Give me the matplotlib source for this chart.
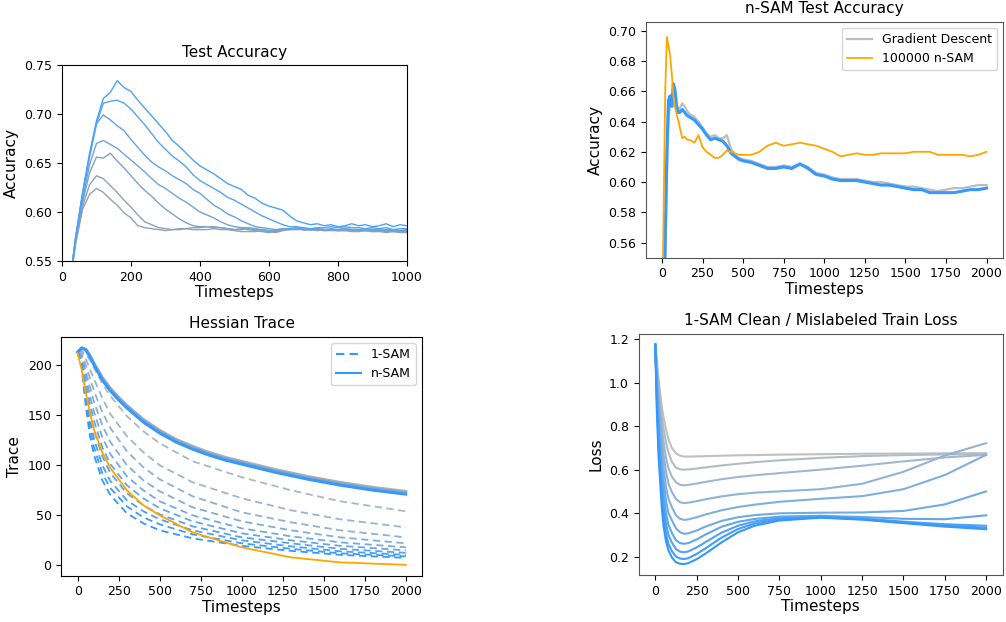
import numpy as np
import matplotlib
matplotlib.use("Agg")
import matplotlib.pyplot as plt
from matplotlib.lines import Line2D

# ---------------- Data: Test Accuracy (top-left) ----------------
TL_X = list(range(0, 1001, 20))
TL_LINES = [
    [0.460, 0.520, 0.568, 0.603, 0.618, 0.624, 0.620, 0.613, 0.607, 0.599,
     0.594, 0.586, 0.584, 0.583, 0.582, 0.581, 0.582, 0.583, 0.583, 0.582,
     0.582, 0.582, 0.583, 0.582, 0.582, 0.581, 0.580, 0.580, 0.580, 0.581,
     0.580, 0.579, 0.581, 0.582, 0.582, 0.582, 0.582, 0.582, 0.581, 0.581,
     0.581, 0.581, 0.580, 0.580, 0.581, 0.580, 0.580, 0.579, 0.580, 0.579,
     0.579],
    [0.460, 0.520, 0.570, 0.606, 0.628, 0.637, 0.634, 0.627, 0.620, 0.612,
     0.605, 0.597, 0.590, 0.587, 0.584, 0.583, 0.582, 0.582, 0.583, 0.584,
     0.584, 0.585, 0.585, 0.584, 0.583, 0.582, 0.582, 0.583, 0.582, 0.582,
     0.581, 0.581, 0.582, 0.582, 0.583, 0.582, 0.582, 0.581, 0.582, 0.582,
     0.581, 0.581, 0.582, 0.581, 0.581, 0.580, 0.581, 0.581, 0.580, 0.580,
     0.580],
    [0.460, 0.520, 0.572, 0.610, 0.640, 0.656, 0.655, 0.660, 0.652, 0.645,
     0.637, 0.629, 0.622, 0.616, 0.609, 0.603, 0.598, 0.593, 0.589, 0.586,
     0.585, 0.585, 0.584, 0.584, 0.583, 0.582, 0.583, 0.582, 0.581, 0.580,
     0.579, 0.581, 0.582, 0.583, 0.583, 0.582, 0.582, 0.582, 0.581, 0.582,
     0.581, 0.582, 0.581, 0.581, 0.582, 0.581, 0.581, 0.580, 0.581, 0.580,
     0.580],
    [0.460, 0.520, 0.573, 0.614, 0.648, 0.670, 0.673, 0.669, 0.665, 0.659,
     0.653, 0.647, 0.641, 0.634, 0.628, 0.624, 0.619, 0.614, 0.610, 0.605,
     0.600, 0.597, 0.594, 0.590, 0.587, 0.585, 0.584, 0.584, 0.583, 0.582,
     0.581, 0.580, 0.582, 0.583, 0.583, 0.582, 0.582, 0.583, 0.582, 0.582,
     0.582, 0.583, 0.582, 0.582, 0.581, 0.582, 0.582, 0.581, 0.581, 0.581,
     0.581],
    [0.460, 0.520, 0.575, 0.618, 0.656, 0.690, 0.699, 0.694, 0.688, 0.683,
     0.674, 0.666, 0.658, 0.651, 0.646, 0.642, 0.637, 0.633, 0.629, 0.623,
     0.619, 0.613, 0.607, 0.603, 0.598, 0.595, 0.591, 0.588, 0.585, 0.584,
     0.583, 0.582, 0.583, 0.583, 0.584, 0.583, 0.582, 0.583, 0.582, 0.583,
     0.582, 0.583, 0.582, 0.582, 0.583, 0.582, 0.581, 0.582, 0.582, 0.581,
     0.582],
    [0.460, 0.520, 0.575, 0.620, 0.658, 0.690, 0.711, 0.713, 0.714, 0.711,
     0.705, 0.697, 0.689, 0.680, 0.671, 0.664, 0.657, 0.652, 0.646, 0.638,
     0.632, 0.628, 0.624, 0.620, 0.615, 0.612, 0.608, 0.604, 0.600, 0.596,
     0.593, 0.590, 0.587, 0.585, 0.585, 0.584, 0.583, 0.584, 0.584, 0.585,
     0.584, 0.585, 0.584, 0.584, 0.583, 0.584, 0.583, 0.584, 0.582, 0.583,
     0.583],
    [0.460, 0.520, 0.575, 0.620, 0.660, 0.693, 0.716, 0.722, 0.734, 0.727,
     0.723, 0.714, 0.706, 0.698, 0.690, 0.682, 0.673, 0.667, 0.660, 0.653,
     0.647, 0.643, 0.639, 0.634, 0.629, 0.626, 0.623, 0.617, 0.614, 0.609,
     0.606, 0.604, 0.602, 0.596, 0.591, 0.589, 0.587, 0.588, 0.586, 0.587,
     0.585, 0.586, 0.588, 0.586, 0.587, 0.585, 0.586, 0.588, 0.585, 0.587,
     0.586],
]

# ---------------- Data: n-SAM Test Accuracy (top-right) ----------------
TR_X = [0, 10, 20, 30, 40, 50, 60, 70, 80, 90,
        100, 110, 125, 140, 155, 170, 185, 200, 225, 250,
        275, 300, 325, 350, 375, 400, 425, 450, 475, 500,
        550, 600, 650, 700, 750, 800, 850, 900, 950, 1000,
        1050, 1100, 1150, 1200, 1250, 1300, 1350, 1400, 1450, 1500,
        1550, 1600, 1650, 1700, 1750, 1800, 1850, 1900, 1950, 2000]
TR_GD = [0.450, 0.490, 0.540, 0.600, 0.640, 0.652, 0.655, 0.650, 0.657, 0.652,
         0.648, 0.649, 0.652, 0.650, 0.647, 0.645, 0.644, 0.643, 0.640, 0.636,
         0.632, 0.630, 0.631, 0.629, 0.629, 0.631, 0.622, 0.618, 0.616, 0.615,
         0.614, 0.612, 0.610, 0.610, 0.611, 0.610, 0.612, 0.610, 0.606, 0.605,
         0.603, 0.602, 0.602, 0.602, 0.601, 0.600, 0.600, 0.599, 0.598, 0.597,
         0.597, 0.596, 0.595, 0.594, 0.595, 0.596, 0.596, 0.597, 0.598, 0.598]
TR_NSAM = [0.450, 0.500, 0.565, 0.620, 0.654, 0.657, 0.650, 0.665, 0.661, 0.650,
           0.646, 0.646, 0.648, 0.646, 0.644, 0.643, 0.642, 0.641, 0.638, 0.635,
           0.631, 0.628, 0.629, 0.628, 0.627, 0.624, 0.619, 0.617, 0.615, 0.614,
           0.613, 0.611, 0.609, 0.609, 0.610, 0.609, 0.612, 0.609, 0.605, 0.604,
           0.602, 0.601, 0.601, 0.601, 0.600, 0.599, 0.598, 0.598, 0.597, 0.596,
           0.595, 0.595, 0.593, 0.593, 0.593, 0.593, 0.594, 0.595, 0.595, 0.596]
TR_ORANGE = [0.500, 0.580, 0.660, 0.696, 0.690, 0.684, 0.672, 0.657, 0.650, 0.645,
             0.641, 0.636, 0.629, 0.630, 0.628, 0.628, 0.627, 0.626, 0.631, 0.623,
             0.620, 0.618, 0.616, 0.616, 0.618, 0.621, 0.620, 0.619, 0.618, 0.618,
             0.618, 0.620, 0.624, 0.626, 0.624, 0.625, 0.626, 0.625, 0.624, 0.622,
             0.620, 0.617, 0.618, 0.619, 0.618, 0.618, 0.619, 0.619, 0.619, 0.619,
             0.620, 0.620, 0.620, 0.618, 0.618, 0.618, 0.618, 0.617, 0.618, 0.620]
TR_LABELS = ["Gradient Descent", "100000 n-SAM"]

# ---------------- Data: Hessian Trace (bottom-left) ----------------
BL_SOLID_X = [0, 25, 50, 75, 100, 150, 200, 250, 300, 400, 500,
              600, 700, 800, 900, 1000, 1200, 1400, 1600, 1800, 2000]
BL_SOLID = [
    [213, 217.5, 216, 210, 202, 188, 177, 168, 160, 146, 135,
     126, 119, 113, 108, 104, 96, 89, 83, 78, 74],
    [213, 217.2, 215.5, 209, 201, 186.5, 175.5, 166.5, 158.5, 144.5, 133.5,
     124.5, 117.5, 111.5, 106.5, 102.5, 94.5, 87.5, 81.5, 76.5, 72.5],
    [213, 217, 215, 208, 200, 185, 174, 165, 157, 143, 132,
     123, 116, 110, 105, 101, 93, 86, 80, 75, 71],
]
BL_DASH_X = [0, 25, 50, 75, 100, 150, 200, 300, 400, 500, 700, 1000, 1300, 1600, 2000]
BL_DASHED = [
    [213, 214, 211, 205, 197, 182, 169, 149, 134, 122, 104, 88, 75, 64, 54],
    [213, 213, 206, 196, 186, 167, 151, 129, 113, 100, 83, 67, 55, 46, 38],
    [213, 211, 200, 187, 174, 153, 137, 114, 98, 86, 69, 53, 43, 35, 28],
    [213, 209, 194, 178, 163, 140, 123, 100, 85, 74, 58, 44, 35, 28, 22],
    [213, 207, 188, 169, 153, 128, 111, 89, 75, 64, 50, 37, 29, 23, 18],
    [213, 205, 182, 161, 144, 118, 101, 80, 67, 57, 44, 32, 25, 19.5, 15],
    [213, 203, 176, 153, 135, 109, 92, 72, 60, 51, 39, 28, 22, 16.5, 12.5],
    [213, 201, 170, 145, 126, 100, 84, 65, 54, 46, 35, 25, 19, 14, 10.5],
    [213, 199, 164, 137, 118, 92, 77, 59, 48, 41, 31, 22, 16.5, 12, 9],
    [213, 197, 158, 129, 110, 85, 70, 52, 42, 35, 27, 19.5, 14.5, 10.5, 7.5],
]
BL_ORANGE = [212, 195, 172, 152, 135, 113, 97, 75, 60, 50, 33, 18, 8, 3, 0.5]
BL_LABELS = ["1-SAM", "n-SAM"]

# ---------------- Data: Train Loss (bottom-right) ----------------
BR_X = [0, 10, 20, 30, 40, 50, 65, 80, 100,
        125, 150, 175, 200, 250, 300, 400, 500, 600, 750, 1000, 1250, 1500, 1750, 2000]
BR_LINES = [
    [1.175, 1.10, 1.02, 0.95, 0.89, 0.84, 0.785, 0.740, 0.700,
     0.675, 0.664, 0.660, 0.660, 0.661, 0.662, 0.664, 0.666, 0.667, 0.669, 0.671, 0.673, 0.674, 0.675, 0.676],
    [1.175, 1.08, 0.99, 0.91, 0.84, 0.79, 0.725, 0.680, 0.637,
     0.610, 0.601, 0.600, 0.601, 0.605, 0.610, 0.619, 0.627, 0.634, 0.643, 0.654, 0.662, 0.667, 0.670, 0.671],
    [1.175, 1.06, 0.96, 0.87, 0.79, 0.73, 0.655, 0.605, 0.568,
     0.542, 0.530, 0.528, 0.530, 0.536, 0.543, 0.556, 0.566, 0.574, 0.584, 0.600, 0.618, 0.638, 0.656, 0.668],
    [1.175, 1.04, 0.93, 0.83, 0.74, 0.67, 0.590, 0.535, 0.498,
     0.465, 0.450, 0.446, 0.448, 0.455, 0.463, 0.477, 0.487, 0.494, 0.500, 0.510, 0.535, 0.590, 0.665, 0.722],
    [1.175, 1.02, 0.89, 0.78, 0.68, 0.61, 0.520, 0.465, 0.428,
     0.390, 0.374, 0.369, 0.371, 0.381, 0.393, 0.413, 0.428, 0.439, 0.452, 0.466, 0.478, 0.510, 0.575, 0.668],
    [1.175, 0.99, 0.85, 0.73, 0.62, 0.55, 0.455, 0.400, 0.368,
     0.330, 0.312, 0.305, 0.307, 0.320, 0.337, 0.364, 0.381, 0.391, 0.399, 0.402, 0.403, 0.410, 0.440, 0.500],
    [1.175, 0.96, 0.81, 0.68, 0.57, 0.49, 0.400, 0.345, 0.310,
     0.275, 0.262, 0.259, 0.262, 0.279, 0.300, 0.337, 0.360, 0.373, 0.384, 0.388, 0.382, 0.374, 0.372, 0.390],
    [1.175, 0.93, 0.77, 0.63, 0.52, 0.44, 0.350, 0.300, 0.265,
     0.235, 0.223, 0.220, 0.224, 0.242, 0.265, 0.310, 0.342, 0.362, 0.378, 0.384, 0.375, 0.361, 0.349, 0.342],
    [1.175, 0.90, 0.72, 0.58, 0.47, 0.39, 0.305, 0.258, 0.226,
     0.200, 0.191, 0.189, 0.193, 0.212, 0.236, 0.287, 0.327, 0.352, 0.372, 0.381, 0.372, 0.357, 0.343, 0.333],
    [1.175, 0.86, 0.66, 0.54, 0.42, 0.34, 0.270, 0.228, 0.197,
     0.174, 0.167, 0.166, 0.170, 0.188, 0.212, 0.265, 0.312, 0.342, 0.366, 0.379, 0.370, 0.354, 0.338, 0.326],
]

# ---------------- Styling helpers ----------------
def blend(c0, c1, n):
    c0 = np.array(matplotlib.colors.to_rgb(c0))
    c1 = np.array(matplotlib.colors.to_rgb(c1))
    return [tuple(c0 + (c1 - c0) * t) for t in np.linspace(0, 1, n)]

TICK_FS = 9
LABEL_FS = 11
TITLE_FS = 11
BLUE = "#3399ff"
ORANGE = "#ffa500"

fig = plt.figure(figsize=(10.06, 6.22), dpi=100)

def style(ax, spine_color="black"):
    ax.tick_params(labelsize=TICK_FS)
    for s in ax.spines.values():
        s.set_edgecolor(spine_color)

# ---- top-left
ax1 = fig.add_axes([0.0616, 0.5804, 0.3429, 0.3151])
cols = blend("#98a2ad", "#4aa3fb", len(TL_LINES))
for vals, c in zip(TL_LINES, cols):
    ax1.plot(TL_X, vals, color=c, lw=1.0)
ax1.set_xlim(0, 1000)
ax1.set_ylim(0.55, 0.75)
ax1.set_xticks([0, 200, 400, 600, 800, 1000])
ax1.set_yticks([0.55, 0.60, 0.65, 0.70, 0.75])
ax1.set_title("Test Accuracy", fontsize=TITLE_FS)
ax1.set_xlabel("Timesteps", fontsize=LABEL_FS, labelpad=1)
ax1.set_ylabel("Accuracy", fontsize=LABEL_FS)
style(ax1)

# ---- top-right
ax2 = fig.add_axes([0.6419, 0.5857, 0.3549, 0.3794])
ax2.plot(TR_X, TR_GD, color="#bdbdbd", lw=1.6, label=TR_LABELS[0])
ax2.plot(TR_X, TR_NSAM, color=BLUE, lw=2.2)
ax2.plot(TR_X, TR_ORANGE, color=ORANGE, lw=1.3, label=TR_LABELS[1])
ax2.set_xlim(-100, 2100)
ax2.set_ylim(0.55, 0.706)
ax2.set_xticks(list(range(0, 2001, 250)))
ax2.set_yticks([0.56, 0.58, 0.60, 0.62, 0.64, 0.66, 0.68, 0.70])
ax2.set_title("n-SAM Test Accuracy", fontsize=TITLE_FS)
ax2.set_xlabel("Timesteps", fontsize=LABEL_FS, labelpad=1)
ax2.set_ylabel("Accuracy", fontsize=LABEL_FS)
ax2.legend(loc="upper right", fontsize=9)
style(ax2, "#555555")

# ---- bottom-left
ax3 = fig.add_axes([0.0609, 0.0744, 0.3588, 0.3842])
dcols = blend("#a9b7c6", BLUE, len(BL_DASHED))
for vals, c in zip(BL_DASHED, dcols):
    ax3.plot(BL_DASH_X, vals, color=c, lw=1.3, ls=(0, (4, 2.5)))
scols = blend("#b0b0b0", BLUE, len(BL_SOLID))
for vals, c in zip(BL_SOLID, scols):
    ax3.plot(BL_SOLID_X, vals, color=c, lw=2.0)
ax3.plot(BL_DASH_X, BL_ORANGE, color=ORANGE, lw=1.3)
ax3.set_xticks(list(range(0, 2001, 250)))
ax3.set_yticks([0, 50, 100, 150, 200])
ax3.set_title("Hessian Trace", fontsize=TITLE_FS)
ax3.set_xlabel("Timesteps", fontsize=LABEL_FS, labelpad=1)
ax3.set_ylabel("Trace", fontsize=LABEL_FS)
handles = [Line2D([], [], color=BLUE, lw=1.5, ls=(0, (4, 2.5))),
           Line2D([], [], color=BLUE, lw=1.5)]
ax3.legend(handles, BL_LABELS, loc="upper right", fontsize=9)
style(ax3)

# ---- bottom-right
ax4 = fig.add_axes([0.6349, 0.0756, 0.3618, 0.3880])
bcols = blend("#c0c0c0", BLUE, len(BR_LINES))
for vals, c in zip(BR_LINES, bcols):
    ax4.plot(BR_X, vals, color=c, lw=1.5)
ax4.set_xticks(list(range(0, 2001, 250)))
ax4.set_yticks([0.2, 0.4, 0.6, 0.8, 1.0, 1.2])
ax4.set_title("1-SAM Clean / Mislabeled Train Loss", fontsize=TITLE_FS)
ax4.set_xlabel("Timesteps", fontsize=LABEL_FS, labelpad=1)
ax4.set_ylabel("Loss", fontsize=LABEL_FS)
style(ax4, "#555555")

fig.savefig("out.png", dpi=100)
